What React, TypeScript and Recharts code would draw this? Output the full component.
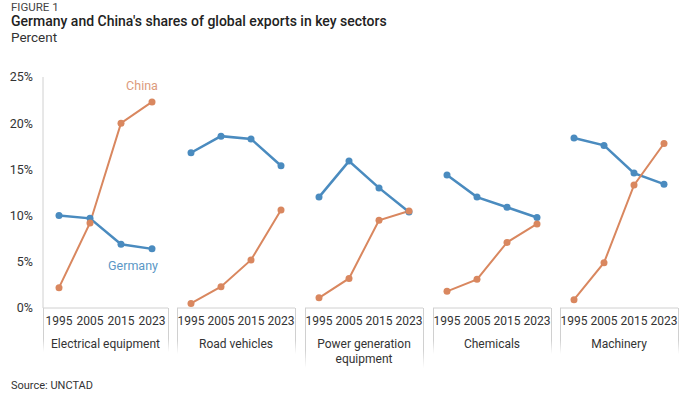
import React from 'react'
import { LineChart, Line, XAxis, YAxis, LabelList } from 'recharts'

const years = ['1995', '2005', '2015', '2023']
const sectors = ['Electrical equipment', 'Road vehicles', 'Power generation\nequipment', 'Chemicals', 'Machinery']
const germany = [
  [10.0, 9.7, 6.9, 6.4],
  [16.8, 18.6, 18.3, 15.4],
  [12.0, 15.9, 13.0, 10.4],
  [14.4, 12.0, 10.9, 9.8],
  [18.4, 17.6, 14.6, 13.4],
]
const china = [
  [2.2, 9.2, 20.0, 22.3],
  [0.5, 2.3, 5.2, 10.6],
  [1.1, 3.2, 9.5, 10.5],
  [1.8, 3.1, 7.1, 9.1],
  [0.9, 4.9, 13.3, 17.8],
]
const yTicks = [0, 5, 10, 15, 20, 25]

const GERMANY = '#4a8bbf'
const CHINA = '#d9875f'
const GRID = '#d0d0d0'
const FONT = 'Roboto, "Noto Sans", sans-serif'

// panel boxes: left edge of plot, plot width, x padding, bottom of side borders
const panels = [
  { left: 43, width: 125, pad: 16, bottom: 352 },
  { left: 177, width: 118, pad: 14, bottom: 354 },
  { left: 305, width: 118, pad: 14, bottom: 368 },
  { left: 433, width: 118, pad: 14, bottom: 354 },
  { left: 560, width: 118, pad: 14, bottom: 354 },
]

const PLOT_TOP = 77
const PLOT_BOTTOM = 308
const CHART_H = 394
const Y_AXIS_W = 43

const seriesLabel = (text: string, color: string, dx: number, dy: number) => (props: any) => {
  if (props.index !== years.length - 1) return null
  return (
    <text x={props.x + dx} y={props.y + dy} fill={color} fontSize={12.5} fontFamily={FONT} textAnchor="middle" dominantBaseline="central">
      {text}
    </text>
  )
}

const sideLine = (x: number, top: number, bottom: number, key: string) => (
  <div
    key={key}
    style={{
      position: 'absolute',
      left: x,
      top,
      width: 1,
      height: bottom - top,
      background: `linear-gradient(${GRID} 70%, rgba(208,208,208,0))`,
    }}
  />
)

const Panel: React.FC<{ i: number }> = ({ i }) => {
  const p = panels[i]
  const first = i === 0
  const data = years.map((y, k) => ({ year: y, germany: germany[i][k], china: china[i][k] }))
  const chartLeft = first ? 0 : p.left
  const chartW = first ? p.left + p.width : p.width
  return (
    <div style={{ position: 'absolute', left: chartLeft, top: 0 }}>
      <LineChart
        width={chartW}
        height={CHART_H}
        data={data}
        margin={{ top: PLOT_TOP, right: 0, left: 0, bottom: CHART_H - PLOT_BOTTOM - 30 }}
      >
        <XAxis
          dataKey="year"
          padding={{ left: p.pad, right: p.pad }}
          axisLine={{ stroke: GRID }}
          tickLine={false}
          tickSize={4}
          tickMargin={4}
          interval={0}
          height={30}
          tick={{ fill: '#333', fontSize: 12, fontFamily: FONT }}
        />
        <YAxis
          hide={!first}
          width={first ? Y_AXIS_W : 0}
          domain={[0, 25]}
          ticks={yTicks}
          axisLine={{ stroke: GRID }}
          tickLine={false}
          tickSize={0}
          tickMargin={10}
          tickFormatter={(v: number) => `${v}%`}
          tick={{ fill: '#333', fontSize: 12.5, fontFamily: FONT }}
        />
        <Line
          dataKey="germany"
          stroke={GERMANY}
          strokeWidth={2.5}
          dot={{ r: 3.5, fill: GERMANY, stroke: GERMANY, strokeWidth: 0 }}
          isAnimationActive={false}
        >
          {first && <LabelList dataKey="germany" content={seriesLabel('Germany', '#5b97c6', -19, 17)} />}
        </Line>
        <Line
          dataKey="china"
          stroke={CHINA}
          strokeWidth={2}
          dot={{ r: 3.5, fill: CHINA, stroke: CHINA, strokeWidth: 0 }}
          isAnimationActive={false}
        >
          {first && <LabelList dataKey="china" content={seriesLabel('China', '#dc9a7c', -10, -16)} />}
        </Line>
      </LineChart>
    </div>
  )
}

const App: React.FC = () => {
  return (
    <div style={{ position: 'relative', width: 700, height: 394, background: '#fff', fontFamily: FONT, overflow: 'hidden' }}>
      <style>{'body{margin:0}'}</style>
      <div style={{ position: 'absolute', left: 11, top: 2, fontSize: 11.5, lineHeight: 1, color: '#444' }}>FIGURE 1</div>
      <div style={{ position: 'absolute', left: 11, top: 14, fontSize: 14, lineHeight: 1, fontWeight: 500, color: '#222' }}>
        Germany and China's shares of global exports in key sectors
      </div>
      <div style={{ position: 'absolute', left: 11, top: 31, fontSize: 13.5, lineHeight: 1, color: '#333' }}>Percent</div>

      {panels.map((_, i) => (
        <Panel key={i} i={i} />
      ))}

      {panels.map((p, i) => [
        sideLine(p.left, PLOT_BOTTOM, p.bottom, `l${i}`),
        sideLine(p.left + p.width, PLOT_BOTTOM, p.bottom, `r${i}`),
      ])}

      {panels.map((p, i) => (
        <div
          key={`s${i}`}
          style={{
            position: 'absolute',
            left: p.left,
            top: 337,
            width: p.width,
            textAlign: 'center',
            whiteSpace: 'pre-line',
            fontSize: 12,
            lineHeight: '15px',
            color: '#333',
          }}
        >
          {sectors[i]}
        </div>
      ))}

      <div style={{ position: 'absolute', left: 11, top: 380, fontSize: 11, lineHeight: 1, color: '#333' }}>Source: UNCTAD</div>
    </div>
  )
}

export default App
